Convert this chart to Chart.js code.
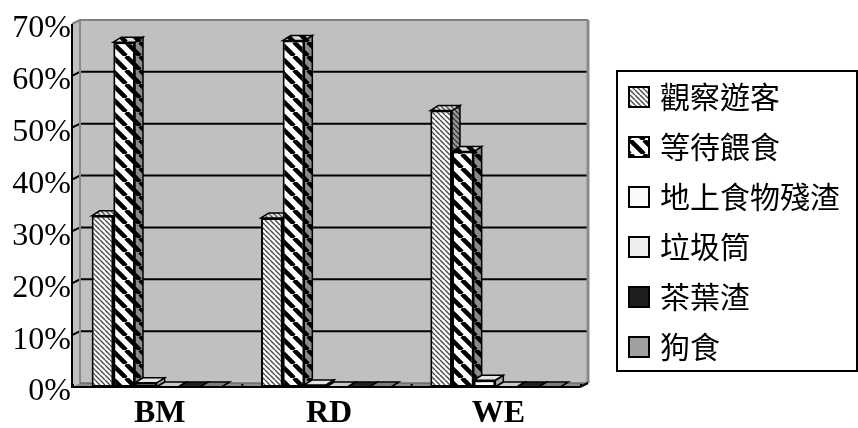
<!DOCTYPE html>
<html>
<head>
<meta charset="utf-8">
<script src="https://cdn.jsdelivr.net/npm/chart.js@4.4.1/dist/chart.umd.min.js"></script>
<style>
  html, body { margin: 0; padding: 0; background: #ffffff; }
  #wrap { width: 858px; height: 428px; }
</style>
</head>
<body>
<div id="wrap"><canvas id="c" width="858" height="428"></canvas></div>
<script>
// Share of observed behaviour per site (percent)
const categories = ['BM', 'RD', 'WE'];
const seriesNames = ['觀察遊客', '等待餵食', '地上食物殘渣', '垃圾筒', '茶葉渣', '狗食'];
const watchVisitors = [33.0, 32.6, 53.3];
const waitFeeding   = [66.5, 66.8, 45.4];
const groundScraps  = [0.8, 0.4, 1.3];
const trashBin      = [0, 0, 0];
const teaLeaves     = [0, 0, 0];
const dogFood       = [0, 0, 0];
const yMax = 70;
const yStep = 10;

const canvas = document.getElementById('c');
const ctx = canvas.getContext('2d');

// diagonal "\" stripe tile
function stripes(size, lineW, bg, fg) {
  const c = document.createElement('canvas');
  c.width = c.height = size;
  const g = c.getContext('2d');
  g.fillStyle = bg;
  g.fillRect(0, 0, size, size);
  g.strokeStyle = fg;
  g.lineWidth = lineW;
  g.beginPath();
  for (let k = -1; k <= 1; k++) {
    g.moveTo(k * size, 0);
    g.lineTo(k * size + size, size);
  }
  g.stroke();
  return ctx.createPattern(c, 'repeat');
}

// front / side / top fills for each series
const faces = [
  { front: stripes(5, 1.4, '#ffffff', '#4a4a4a'), side: stripes(5, 1.4, '#9a9a9a', '#333333'), top: stripes(5, 1.4, '#e2e2e2', '#555555') },
  { front: stripes(14, 4.5, '#ffffff', '#000000'), side: stripes(14, 4.5, '#8a8a8a', '#000000'), top: stripes(14, 4.5, '#dcdcdc', '#000000') },
  { front: '#ffffff', side: '#a8a8a8', top: '#e4e4e4' },
  { front: '#eeeeee', side: '#a0a0a0', top: '#c8c8c8' },
  { front: '#1e1e1e', side: '#111111', top: '#222222' },
  { front: '#a0a0a0', side: '#666666', top: '#7c7c7c' }
];
const legendSwatch = [faces[0].front, faces[1].front, '#fafafa', '#eeeeee', '#1e1e1e', '#a0a0a0'];

const seriesValues = [watchVisitors, waitFeeding, groundScraps, trashBin, teaLeaves, dogFood];

// depth offsets of the 3-D box and of the columns
const DX = 8, DY = -4;
const BDX = 8, BDY = -5;

function poly(c, pts, fill, stroke, lw) {
  c.beginPath();
  c.moveTo(pts[0][0], pts[0][1]);
  for (let i = 1; i < pts.length; i++) c.lineTo(pts[i][0], pts[i][1]);
  c.closePath();
  if (fill) { c.fillStyle = fill; c.fill(); }
  if (stroke) { c.strokeStyle = stroke; c.lineWidth = lw || 1; c.stroke(); }
}
function seg(c, x1, y1, x2, y2, color, lw) {
  c.beginPath();
  c.moveTo(x1, y1);
  c.lineTo(x2, y2);
  c.strokeStyle = color;
  c.lineWidth = lw;
  c.stroke();
}

const box3d = {
  id: 'box3d',
  beforeDatasetsDraw(chart) {
    const c = chart.ctx;
    const a = chart.chartArea;
    const y = chart.scales.y;
    c.save();
    // back wall
    c.fillStyle = '#c0c0c0';
    c.fillRect(a.left + DX, a.top + DY, a.right - a.left, a.bottom - a.top);
    // side wall
    poly(c, [[a.left, a.top], [a.left + DX, a.top + DY], [a.left + DX, a.bottom + DY], [a.left, a.bottom]], '#c0c0c0');
    // floor
    poly(c, [[a.left, a.bottom], [a.left + DX, a.bottom + DY], [a.right + DX, a.bottom + DY], [a.right, a.bottom]], '#8c8c8c');
    // gridlines on side wall and back wall
    y.ticks.forEach(t => {
      if (t.value <= 0 || t.value >= yMax) return;
      const py = y.getPixelForValue(t.value);
      c.beginPath();
      c.moveTo(a.left, py);
      c.lineTo(a.left + DX, py + DY);
      c.lineTo(a.right + DX, py + DY);
      c.strokeStyle = '#000000';
      c.lineWidth = 2;
      c.stroke();
    });
    // wall edges
    seg(c, a.left + DX, a.top + DY, a.left + DX, a.bottom + DY, '#8a8a8a', 2);
    seg(c, a.left + DX, a.top + DY, a.right + DX, a.top + DY, '#808080', 2);
    seg(c, a.right + DX, a.top + DY, a.right + DX, a.bottom + DY, '#8a8a8a', 3);
    seg(c, a.left, a.top, a.left + DX, a.top + DY, '#808080', 2);
    seg(c, a.left + DX, a.bottom + DY, a.right + DX, a.bottom + DY, '#555555', 1);

    // category dividers on the floor
    const step = (a.right - a.left) / categories.length;
    for (let i = 0; i <= categories.length; i++) {
      const px = a.left + i * step;
      seg(c, px + 1, a.bottom + DY + 1, px + 1, a.bottom, '#000000', 2);
    }

    // column sides and tops, left to right
    const bars = [];
    chart.data.datasets.forEach((ds, di) => {
      chart.getDatasetMeta(di).data.forEach(el => bars.push({ el, di }));
    });
    bars.sort((p, q) => p.el.x - q.el.x);
    bars.forEach(({ el, di }) => {
      const l = el.x - el.width / 2;
      const r = el.x + el.width / 2;
      const top = el.y;
      const base = el.base;
      if (base - top > 0.5) {
        poly(c, [[r, top], [r + BDX, top + BDY], [r + BDX, base + BDY], [r, base]], faces[di].side, '#000000', 1.5);
      }
      poly(c, [[l, top], [l + BDX, top + BDY], [r + BDX, top + BDY], [r, top]], faces[di].top, '#000000', 1.5);
    });
    c.restore();
  },
  afterDatasetsDraw(chart) {
    const c = chart.ctx;
    const a = chart.chartArea;
    c.save();
    seg(c, a.left, a.top, a.left, a.bottom + 1, '#000000', 2);
    seg(c, a.left - 1, a.bottom, a.right, a.bottom, '#000000', 2);
    seg(c, a.right, a.bottom, a.right + DX, a.bottom + DY, '#000000', 2);
    c.restore();
  }
};

const boxLegend = {
  id: 'boxLegend',
  afterDraw(chart) {
    const c = chart.ctx;
    const L = 617, T = 71, R = 857, B = 371;
    c.save();
    c.fillStyle = '#ffffff';
    c.fillRect(L, T, R - L, B - T);
    c.strokeStyle = '#000000';
    c.lineWidth = 2;
    c.strokeRect(L, T, R - L, B - T);
    const rowH = (B - T) / chart.data.datasets.length;
    chart.data.datasets.forEach((ds, i) => {
      const cy = T + rowH * (i + 0.5) + 1;
      c.fillStyle = legendSwatch[i];
      c.fillRect(L + 12, cy - 10, 20, 20);
      c.lineWidth = 2;
      c.strokeStyle = '#000000';
      c.strokeRect(L + 12, cy - 10, 20, 20);
      c.fillStyle = '#000000';
      c.font = '30px "Noto Sans CJK TC", "Noto Sans CJK SC", sans-serif';
      c.textAlign = 'left';
      c.textBaseline = 'middle';
      c.fillText(ds.label, L + 43, cy);
    });
    c.restore();
  }
};

new Chart(canvas, {
  type: 'bar',
  data: {
    labels: categories,
    datasets: seriesNames.map((name, i) => ({
      label: name,
      data: seriesValues[i],
      backgroundColor: faces[i].front,
      borderColor: '#000000',
      borderWidth: 2,
      borderSkipped: false,
      categoryPercentage: 0.768,
      barPercentage: 1.0
    }))
  },
  options: {
    responsive: false,
    animation: false,
    devicePixelRatio: 1,
    layout: { padding: { top: 24, right: 278, left: 0, bottom: 0 } },
    plugins: {
      legend: { display: false },
      tooltip: { enabled: false }
    },
    scales: {
      x: {
        grid: { display: false, drawTicks: false },
        border: { display: false },
        ticks: {
          color: '#000000',
          font: { family: '"Liberation Serif", "Times New Roman", serif', size: 32, weight: 'bold' },
          padding: 8,
          labelOffset: 3
        },
        afterFit(s) { s.height = 41; }
      },
      y: {
        min: 0,
        max: yMax,
        grid: { display: false, drawTicks: false },
        border: { display: false },
        ticks: {
          stepSize: yStep,
          color: '#000000',
          font: { family: '"Liberation Serif", "Times New Roman", serif', size: 32 },
          padding: 1,
          labelOffset: 5,
          callback: v => v + '%'
        },
        afterFit(s) { s.width = 72; }
      }
    }
  },
  plugins: [box3d, boxLegend]
});
</script>
</body>
</html>
